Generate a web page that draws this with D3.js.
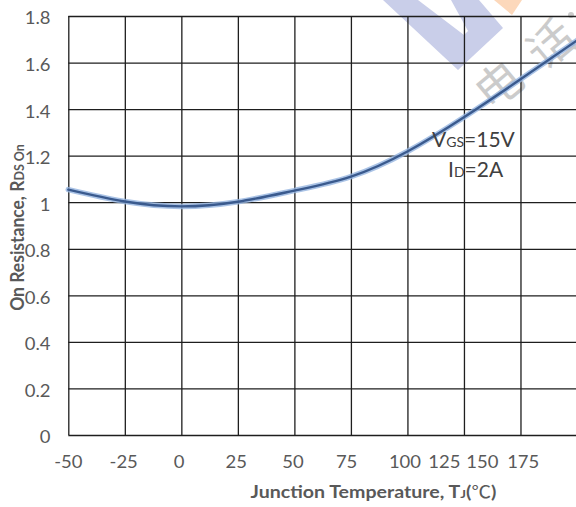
<!DOCTYPE html>
<html>
<head>
<meta charset="utf-8">
<script src="https://cdn.jsdelivr.net/npm/d3@7"></script>
<style>
  html, body { margin: 0; padding: 0; background: #ffffff; }
  svg { display: block; }
</style>
</head>
<body>
<svg id="chart" width="576" height="507"></svg>
<script>
// Normalized on-resistance versus junction temperature
const temperatures = [-50, -25, 0, 25, 50, 75, 100, 125, 150, 175];
const rdsOn        = [1.054, 1.003, 0.982, 1.002, 1.05, 1.11, 1.218, 1.365, 1.528, 1.695];

const xTickValues = [-50, -25, 0, 25, 50, 75, 100, 125, 150, 175];
const xTickLabels = ["-50", "-25", "0", "25", "50", "75", "100", "125", "150", "175"];
const yTickValues = [0, 0.2, 0.4, 0.6, 0.8, 1.0, 1.2, 1.4, 1.6, 1.8];
const yTickLabels = ["0", "0.2", "0.4", "0.6", "0.8", "1", "1.2", "1.4", "1.6", "1.8"];

// Temperature at which each bottom label is centred (the last few labels sit closer together)
const xLabelAnchors = [-50, -25.5, -1, 24.3, 49.4, 73.1, 98.9, 116.3, 133.1, 151.2];

const svg = d3.select("#chart");
const plot = { left: 68.3, right: 577, top: 16, bottom: 435 };

const x = d3.scaleLinear().domain([-50, 175]).range([plot.left, plot.right]);
const y = d3.scaleLinear().domain([0, 1.8]).range([plot.bottom, plot.top]);

const TEXT_GREY = "#595959";
const SX = 1.12;            // horizontal stretch applied to the lettering
const FONT = "Lato, 'Open Sans', 'Noto Sans', sans-serif";

// ---- watermark (drawn underneath everything) ----
const wm = svg.append("g").attr("class", "watermark");
wm.append("polygon")
  .attr("points", [[383,0],[458,70],[503,28],[479,0],[451,0],[468,31],[464,35],[418,0]].map(p => p.join(",")).join(" "))
  .attr("fill", "#c9cee9");
wm.append("polygon")
  .attr("points", "494,0 522,0 512,15")
  .attr("fill", "#fcd8bb");
[["电", 499, 85], ["话", 551, 44]].forEach(([ch, cx, cy]) => {
  wm.append("text")
    .attr("transform", `translate(${cx},${cy}) rotate(-40)`)
    .attr("text-anchor", "middle")
    .attr("dy", "0.36em")
    .attr("font-family", "'Noto Sans CJK SC', sans-serif")
    .attr("font-size", 46)
    .attr("fill", "#cbcbcb")
    .text(ch);
});
wm.append("circle").attr("cx", 571).attr("cy", 15).attr("r", 3).attr("fill", "#cbcbcb");

// ---- grid built from the axes ----
const gridColor = "#1e1e1e";
const gx = svg.append("g")
  .attr("transform", `translate(0,${plot.bottom})`)
  .call(d3.axisBottom(x).tickValues(xTickValues).tickSize(-(plot.bottom - plot.top)).tickFormat(""));
const gy = svg.append("g")
  .attr("transform", `translate(${plot.left},0)`)
  .call(d3.axisLeft(y).tickValues(yTickValues).tickSize(-(plot.right - plot.left)).tickFormat(""));
[gx, gy].forEach(g => {
  g.select(".domain").remove();
  g.selectAll(".tick line").attr("stroke", gridColor).attr("stroke-width", 1.3);
});

// ---- tick labels ----
const xl = svg.append("g").attr("font-family", FONT).attr("font-size", 16.5).attr("fill", TEXT_GREY);
xTickLabels.forEach((lab, i) => {
  xl.append("text")
    .attr("transform", `translate(${x(xLabelAnchors[i])},468) scale(${SX},1)`)
    .attr("text-anchor", "middle")
    .text(lab);
});
const yl = svg.append("g").attr("font-family", FONT).attr("font-size", 16.5).attr("fill", TEXT_GREY);
yTickLabels.forEach((lab, i) => {
  yl.append("text")
    .attr("transform", `translate(50.5,${y(yTickValues[i]) + 2.5}) scale(${SX},1)`)
    .attr("text-anchor", "end")
    .attr("dy", "0.36em")
    .text(lab);
});

// ---- axis titles ----
const xTitle = svg.append("text")
  .attr("transform", `translate(373.5,498) scale(${SX},1)`)
  .attr("text-anchor", "middle")
  .attr("font-family", FONT)
  .attr("font-weight", "bold")
  .attr("font-size", 17.5)
  .attr("fill", TEXT_GREY);
xTitle.append("tspan").text("Junction Temperature, T");
xTitle.append("tspan").attr("font-size", 12).text("J");
xTitle.append("tspan").text("(");
xTitle.append("tspan").attr("font-weight", "normal").attr("font-family", "'Noto Sans CJK SC', sans-serif").text("℃");
xTitle.append("tspan").text(")");

const yTitle = svg.append("text")
  .attr("transform", `translate(24,227.5) scale(${SX},1) rotate(-90)`)
  .attr("text-anchor", "middle")
  .attr("font-family", FONT)
  .attr("font-weight", "bold")
  .attr("font-size", 17.5)
  .attr("fill", TEXT_GREY);
yTitle.append("tspan").text("On Resistance, R");
yTitle.append("tspan").attr("font-size", 12.5).text("DS On");

// ---- curve ----
const line = d3.line()
  .x((d, i) => x(temperatures[i]))
  .y(d => y(d))
  .curve(d3.curveNatural);

svg.append("path")
  .datum(rdsOn)
  .attr("d", line)
  .attr("fill", "none")
  .attr("stroke", "#95b4e0")
  .attr("stroke-width", 5.5)
  .attr("stroke-opacity", 0.8)
  .attr("stroke-linecap", "round");
svg.append("path")
  .datum(rdsOn)
  .attr("d", line)
  .attr("fill", "none")
  .attr("stroke", "#3a5a8e")
  .attr("stroke-width", 2.4)
  .attr("stroke-linecap", "round");

// ---- test condition note ----
const note = svg.append("g").attr("font-family", FONT).attr("fill", "#404040");
const n1 = note.append("text").attr("x", 432).attr("y", 147).attr("font-size", 21);
n1.append("tspan").text("V");
n1.append("tspan").attr("font-size", 14).text("GS");
n1.append("tspan").text("=15V");
const n2 = note.append("text").attr("x", 448).attr("y", 177).attr("font-size", 21);
n2.append("tspan").text("I");
n2.append("tspan").attr("font-size", 14).text("D");
n2.append("tspan").text("=2A");
</script>
</body>
</html>
